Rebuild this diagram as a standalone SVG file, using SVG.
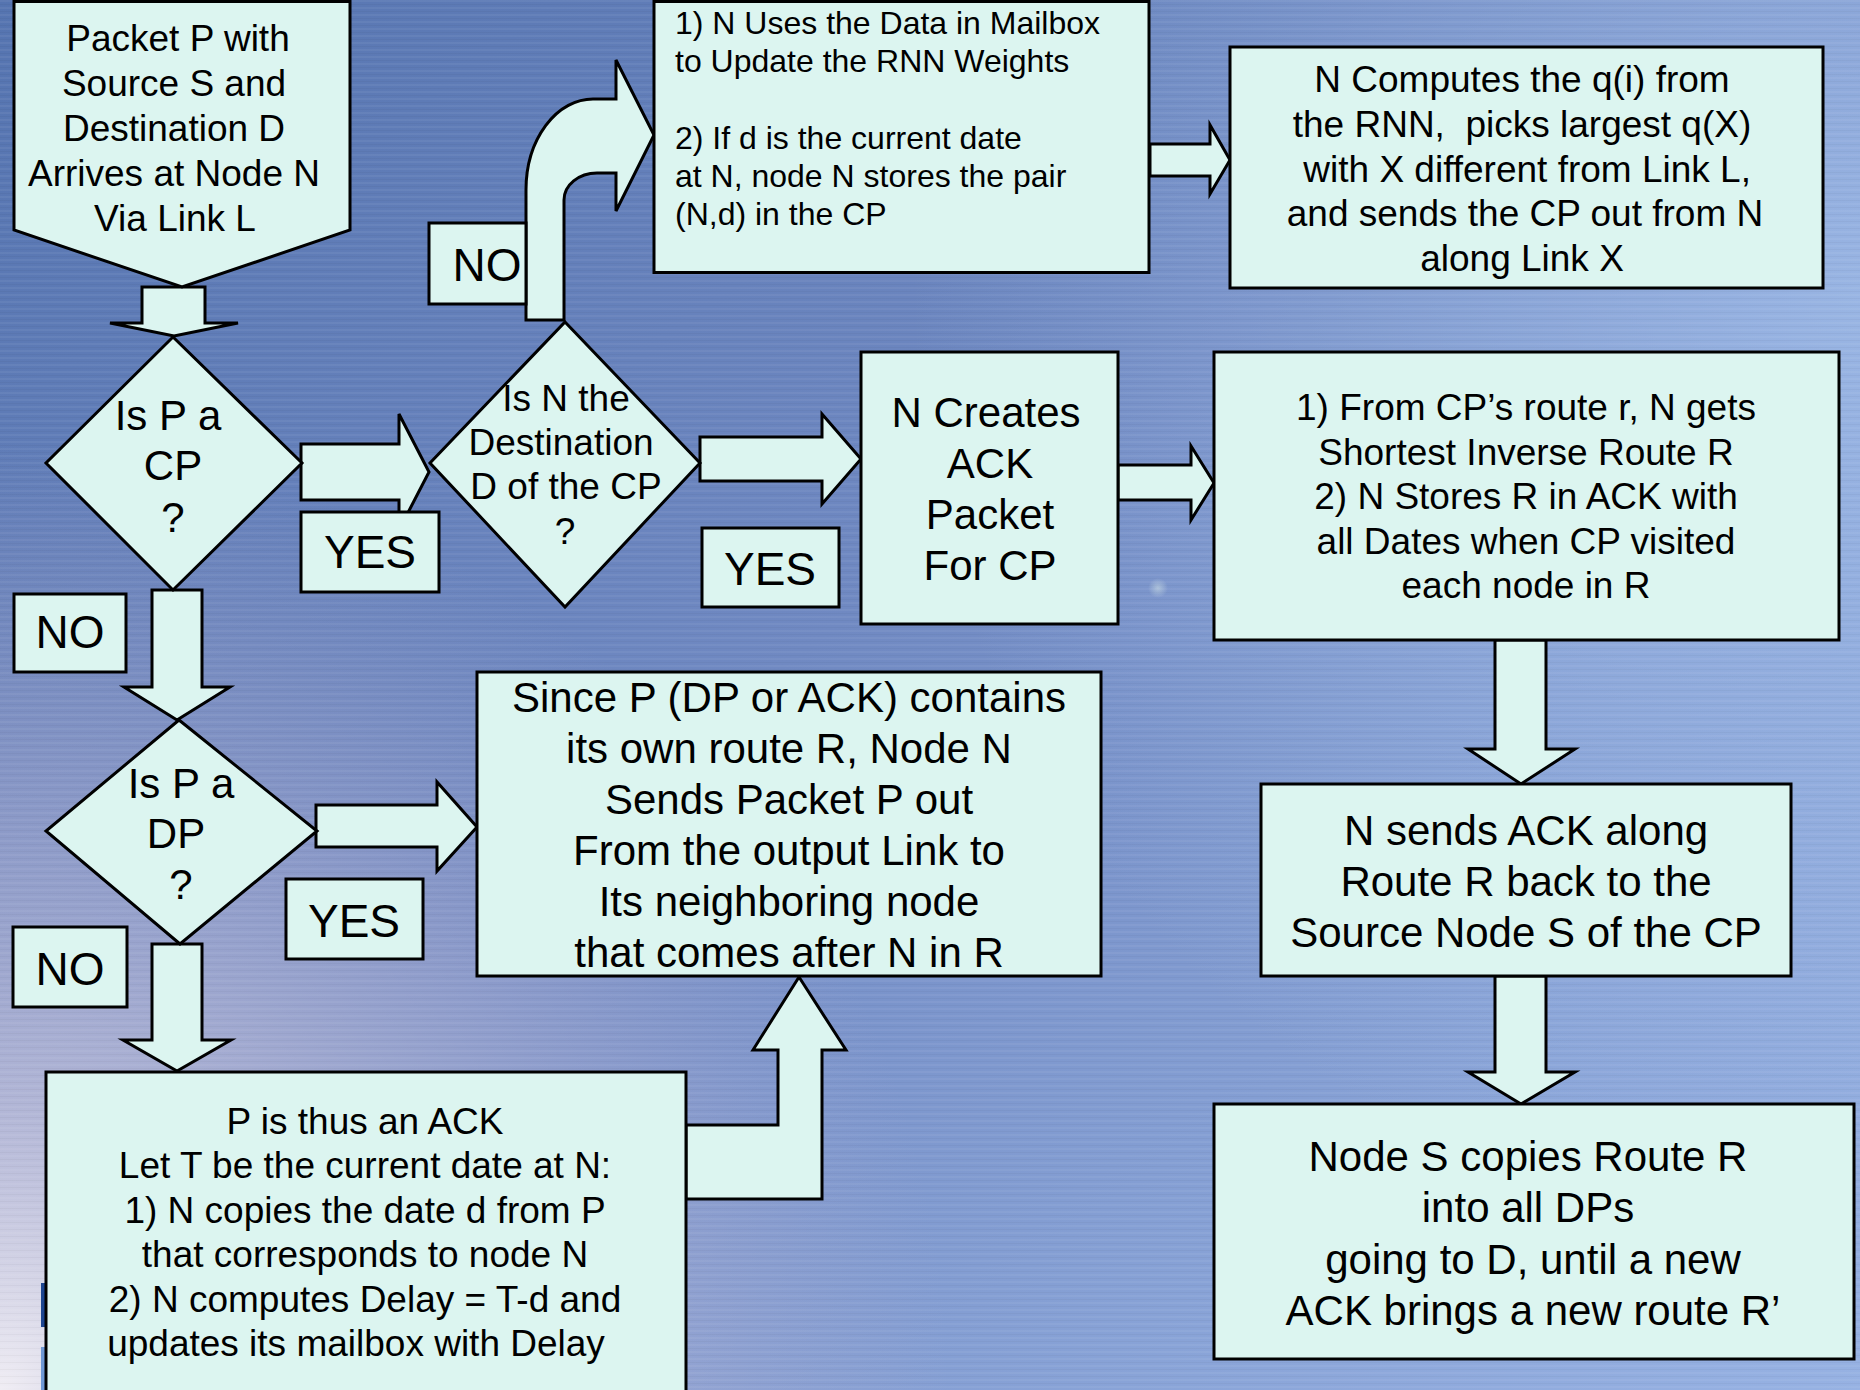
<svg xmlns="http://www.w3.org/2000/svg" width="1860" height="1390" viewBox="0 0 1860 1390">
  <defs>
    <style>
      .box { fill: #DCF5F0; stroke: #000; stroke-width: 3; }
      .arrow { fill: #DCF5F0; stroke: #000; stroke-width: 3; stroke-linejoin: miter; }
      text { font-family: "Liberation Sans", Arial, Helvetica, sans-serif; fill: #000; }
      .c { text-anchor: middle; }
      .f32 { font-size: 32px; }
      .f37 { font-size: 37px; }
      .f42 { font-size: 42px; }
      .f46 { font-size: 46px; }
      .pre { white-space: pre; }
    </style>
    <linearGradient id="bgBase" x1="0" y1="0" x2="1" y2="1">
      <stop offset="0" stop-color="#5574b0"/>
      <stop offset="0.45" stop-color="#7089c2"/>
      <stop offset="1" stop-color="#97b2e3"/>
    </linearGradient>
    <radialGradient id="glowBL" cx="0" cy="1390" r="950" gradientUnits="userSpaceOnUse">
      <stop offset="0" stop-color="#f6f2f6" stop-opacity="0.95"/>
      <stop offset="0.3" stop-color="#d6cfe2" stop-opacity="0.65"/>
      <stop offset="1" stop-color="#b6aed0" stop-opacity="0"/>
    </radialGradient>
    <radialGradient id="glowR" cx="1860" cy="300" r="950" gradientUnits="userSpaceOnUse">
      <stop offset="0" stop-color="#a9c6f0" stop-opacity="0.65"/>
      <stop offset="1" stop-color="#a9c6f0" stop-opacity="0"/>
    </radialGradient>
    <radialGradient id="spark">
      <stop offset="0" stop-color="#e4f4ec" stop-opacity="0.45"/>
      <stop offset="1" stop-color="#e4f4ec" stop-opacity="0"/>
    </radialGradient>
    <pattern id="streaks" width="60" height="7" patternUnits="userSpaceOnUse">
      <rect width="60" height="2" fill="#ffffff" opacity="0.05"/>
      <rect y="4" width="60" height="1" fill="#000000" opacity="0.03"/>
    </pattern>
  </defs>

  <!-- backdrop -->
  <g id="background">
    <rect width="1860" height="1390" fill="url(#bgBase)"/>
    <rect width="1860" height="1390" fill="url(#glowR)"/>
    <rect width="1860" height="1390" fill="url(#glowBL)"/>
    <rect width="1860" height="1390" fill="url(#streaks)"/>
    <circle cx="1158" cy="588" r="10" fill="url(#spark)"/>
    <rect x="41" y="1283" width="4" height="44" fill="#1d4590"/>
    <rect x="41" y="1347" width="4" height="43" fill="#6f98d4"/>
  </g>

  <!-- block arrows between steps -->
  <g id="connectors">
    <!-- start -> Is P a CP -->
    <polygon class="arrow" points="142,287 205,287 205,323 238,323 174,336 110,323 142,323"/>
    <!-- Is P a CP -> Is N the Destination (YES) -->
    <polygon class="arrow" points="301,444 399,444 399,414 429,472 399,530 399,500 301,500"/>
    <!-- Is N the Destination -> update mailbox (NO, bent up) -->
    <path class="arrow" d="M526,320 L526,190 A67,91 0 0 1 593,99 L616,99 L616,60 L654,135 L616,211 L616,173 L597,173 A33,27 0 0 0 564,200 L564,320 Z"/>
    <!-- update mailbox -> compute q(i) -->
    <polygon class="arrow" points="1150,144 1210,144 1210,125 1230,160 1210,194 1210,176 1150,176"/>
    <!-- Is N the Destination -> N Creates ACK (YES) -->
    <polygon class="arrow" points="700,437 822,437 822,414 861,459 822,504 822,481 700,481"/>
    <!-- N Creates ACK -> inverse route -->
    <polygon class="arrow" points="1118,465 1191,465 1191,446 1214,483 1191,520 1191,500 1118,500"/>
    <!-- inverse route -> send ACK -->
    <polygon class="arrow" points="1495,640 1546,640 1546,749 1575,749 1521,784 1468,749 1495,749"/>
    <!-- send ACK -> Node S copies -->
    <polygon class="arrow" points="1495,976 1546,976 1546,1072 1575,1072 1521,1104 1468,1072 1495,1072"/>
    <!-- Is P a CP -> Is P a DP (NO) -->
    <polygon class="arrow" points="152,590 202,590 202,687 230,687 177,720 124,687 152,687"/>
    <!-- Is P a DP -> forward along R (YES) -->
    <polygon class="arrow" points="316,805 437,805 437,782 477,827 437,871 437,847 316,847"/>
    <!-- Is P a DP -> ACK handling (NO) -->
    <polygon class="arrow" points="152,944 202,944 202,1040 231,1040 177,1071 123,1040 152,1040"/>
    <!-- ACK handling -> forward along R (bent up) -->
    <polygon class="arrow" points="686,1125 778,1125 778,1050 753,1050 799,977 846,1050 822,1050 822,1199 686,1199"/>
  </g>

  <g id="nodes">
    <g id="start">
      <polygon class="box" points="14,1.5 350,1.5 350,230 182,287 14,230"/>
      <text class="f37 c" x="178" y="51">Packet P with</text>
      <text class="f37 c" x="174" y="96">Source S and</text>
      <text class="f37 c" x="174" y="141">Destination D</text>
      <text class="f37 c" x="174" y="186">Arrives at Node N</text>
      <text class="f37 c" x="175" y="231">Via Link L</text>
    </g>

    <g id="update-weights">
      <rect class="box" x="654" y="1.5" width="495" height="271"/>
      <text class="f32" x="675" y="34">1) N Uses the Data in Mailbox</text>
      <text class="f32" x="675" y="72">to Update the RNN Weights</text>
      <text class="f32" x="675" y="149">2) If d is the current date</text>
      <text class="f32" x="675" y="187">at N, node N stores the pair</text>
      <text class="f32" x="675" y="225">(N,d) in the CP</text>
    </g>

    <g id="forward-cp">
      <rect class="box" x="1230" y="47" width="593" height="241"/>
      <text class="f37 c" x="1522" y="92">N Computes the q(i) from</text>
      <text class="f37 c pre" x="1522" y="137" xml:space="preserve">the RNN,  picks largest q(X)</text>
      <text class="f37 c pre" x="1522" y="182" xml:space="preserve"> with X different from Link L,</text>
      <text class="f37 c" x="1525" y="226">and sends the CP out from N</text>
      <text class="f37 c" x="1522" y="271">along Link X</text>
    </g>

    <g id="is-cp">
      <polygon class="box" points="173,337 302,463 173,590 46,463"/>
      <text class="f42 c" x="168" y="430">Is P a</text>
      <text class="f42 c" x="173" y="480">CP</text>
      <text class="f42 c" x="173" y="532">?</text>
    </g>

    <g id="is-destination">
      <polygon class="box" points="565,322 700,463 565,607 430,463"/>
      <text class="f37 c" x="566" y="411">Is N the</text>
      <text class="f37 c" x="561" y="455">Destination</text>
      <text class="f37 c" x="566" y="499">D of the CP</text>
      <text class="f37 c" x="565" y="544">?</text>
    </g>

    <g id="create-ack">
      <rect class="box" x="861" y="352" width="257" height="272"/>
      <text class="f42 c" x="986" y="427">N Creates</text>
      <text class="f42 c" x="990" y="478">ACK</text>
      <text class="f42 c" x="990" y="529">Packet</text>
      <text class="f42 c" x="990" y="580">For CP</text>
    </g>

    <g id="inverse-route">
      <rect class="box" x="1214" y="352" width="625" height="288"/>
      <text class="f37 c" x="1526" y="420">1) From CP’s route r, N gets</text>
      <text class="f37 c" x="1526" y="465">Shortest Inverse Route R</text>
      <text class="f37 c" x="1526" y="509">2) N Stores R in ACK with</text>
      <text class="f37 c" x="1526" y="554">all Dates when CP visited</text>
      <text class="f37 c" x="1526" y="598">each node in R</text>
    </g>

    <g id="send-ack">
      <rect class="box" x="1261" y="784" width="530" height="192"/>
      <text class="f42 c" x="1526" y="845">N sends ACK along</text>
      <text class="f42 c" x="1526" y="896">Route R back to the</text>
      <text class="f42 c" x="1526" y="947">Source Node S of the CP</text>
    </g>

    <g id="source-update">
      <rect class="box" x="1214" y="1104" width="640" height="255"/>
      <text class="f42 c" x="1528" y="1171">Node S copies Route R</text>
      <text class="f42 c" x="1528" y="1222">into all DPs</text>
      <text class="f42 c" x="1533" y="1274">going to D, until a new</text>
      <text class="f42 c" x="1533" y="1325">ACK brings a new route R’</text>
    </g>

    <g id="is-dp">
      <polygon class="box" points="179,720 317,831 180,944 46,831"/>
      <text class="f42 c" x="181" y="798">Is P a</text>
      <text class="f42 c" x="176" y="848">DP</text>
      <text class="f42 c" x="181" y="899">?</text>
    </g>

    <g id="forward-packet">
      <rect class="box" x="477" y="672" width="624" height="304"/>
      <text class="f42 c" x="789" y="712">Since P (DP or ACK) contains</text>
      <text class="f42 c" x="789" y="763">its own route R, Node N</text>
      <text class="f42 c" x="789" y="814">Sends Packet P out</text>
      <text class="f42 c" x="789" y="865">From the output Link to</text>
      <text class="f42 c" x="789" y="916">Its neighboring node</text>
      <text class="f42 c" x="789" y="967">that comes after N in R</text>
    </g>

    <g id="ack-delay">
      <rect class="box" x="46" y="1072" width="640" height="330"/>
      <text class="f37 c" x="365" y="1134">P is thus an ACK</text>
      <text class="f37 c" x="365" y="1178">Let T be the current date at N:</text>
      <text class="f37 c" x="365" y="1223">1) N copies the date d from P</text>
      <text class="f37 c" x="365" y="1267">that corresponds to node N</text>
      <text class="f37 c" x="365" y="1312">2) N computes Delay = T-d and</text>
      <text class="f37 c" x="356" y="1356">updates its mailbox with Delay</text>
    </g>

    <g id="label-no-dest">
      <rect class="box" x="429" y="223" width="97" height="81"/>
      <text class="f46 c" x="487" y="281">NO</text>
    </g>
    <g id="label-no-cp">
      <rect class="box" x="14" y="594" width="112" height="78"/>
      <text class="f46 c" x="70" y="648">NO</text>
    </g>
    <g id="label-no-dp">
      <rect class="box" x="13" y="927" width="114" height="80"/>
      <text class="f46 c" x="70" y="985">NO</text>
    </g>
    <g id="label-yes-cp">
      <rect class="box" x="301" y="512" width="138" height="80"/>
      <text class="f46 c" x="370" y="568">YES</text>
    </g>
    <g id="label-yes-dest">
      <rect class="box" x="702" y="528" width="137" height="79"/>
      <text class="f46 c" x="770" y="585">YES</text>
    </g>
    <g id="label-yes-dp">
      <rect class="box" x="286" y="879" width="137" height="80"/>
      <text class="f46 c" x="354" y="937">YES</text>
    </g>
  </g>
</svg>
